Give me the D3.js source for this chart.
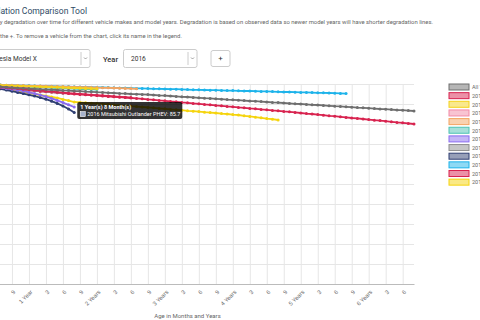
<!DOCTYPE html>
<html>
<head>
<meta charset="utf-8">
<script src="https://cdn.jsdelivr.net/npm/d3@7"></script>
<style>
  body { margin: 0; overflow: hidden; background: #fff; font-family: Roboto, "Open Sans", sans-serif; }
  svg { display: block; }
</style>
</head>
<body>
<div id="chart"></div>
<script>
// monthly battery capacity (%) by series, month 0 .. n
var allVehicles = [100.0,99.8,99.6,99.4,99.2,99.0,98.8,98.6,98.4,98.2,98.0,
  97.9,97.7,97.6,97.4,97.3,97.1,97.0,96.8,96.7,96.5,
  96.4,96.2,96.1,95.9,95.8,95.6,95.5,95.3,95.2,95.0,
  94.9,94.8,94.7,94.5,94.3,94.2,94.0,93.8,93.6,93.5,
  93.3,93.1,92.9,92.8,92.6,92.4,92.2,92.1,91.9,91.7,
  91.5,91.4,91.2,91.0,90.8,90.7,90.5,90.3,90.1,90.0,
  89.8,89.6,89.5,89.3,89.1,88.9,88.8,88.6,88.4,88.2,
  88.1,87.9,87.7,87.5,87.4,87.2,87.0,86.9,86.7,86.5];
var modelS2017 = [100,99.8,99.6,99.4,99.2,98.9,98.7,98.4,98.2,97.9,97.7,97.4,97.2,96.9,96.7,96.4,
  96.2,95.9,95.7,95.4,95.2,95.0,94.8,94.6,94.4,94.2,94.0,93.8,93.6,93.4,93.2];
var modelS2018 = [100,99.9,99.8,99.7,99.6,99.5,99.4,99.3,99.2,99.1,99.0,98.9,98.8,98.7,98.6,98.5,
  98.4,98.3,98.2,98.1,98.0,97.9,97.8,97.7,97.6];
var modelX2019 = [100,99.9,99.7,99.6,99.4,99.3,99.1,99.0,98.8,98.7,98.5,98.4,98.2];
var modelX2017 = [100,99.9,99.9,99.8,99.8,99.7,99.6,99.5,99.4,99.4,99.3,99.2,99.1,99.0,99.0,98.9,
  98.8,98.7,98.7,98.6,98.5,98.4,98.4,98.3,98.2,98.1,98.1,98.0,97.9,97.8,97.7,97.6];
var modelX2018 = [100,99.9,99.8,99.7,99.6,99.5,99.3,99.2,99.1,99.0,98.9,98.7,98.6,98.5,98.4,98.3,
  98.1,98.0,97.9,97.8,97.7,97.5,97.4,97.3,97.2];
var leaf2018 = [100,99.8,99.6,99.4,99.1,98.8,98.5,98.2,97.8,97.4,96.9,96.4,95.8,95.2,94.5,93.7,
  92.8,91.8,90.7,89.6,88.5];
var bolt2019 = [100,99.8,99.5,99.3,99.0,98.8,98.5,98.3,98.0,97.8,97.5,97.3,97.0,96.8,96.5,96.3,
  96.0,95.8,95.5];
var outlander2016 = [100,99.8,99.6,99.3,99.0,98.7,98.2,97.6,97.0,96.4,95.8,95.2,94.6,94.0,93.2,92.4,
  91.4,90.3,89.0,87.5,85.7];
var modelX2016 = [100.0,99.9,99.9,99.8,99.7,99.7,99.6,99.5,
  99.4,99.4,99.3,99.2,99.2,99.1,99.0,98.9,98.9,98.8,98.7,98.7,98.6,98.5,98.5,98.4,98.3,98.3,98.2,98.1,98.0,98.0,97.9,97.8,97.8,97.7,
  97.6,97.6,97.5,97.4,97.4,97.3,97.2,97.1,97.1,97.0,96.9,96.9,96.8,96.7,96.7,96.6,96.5,96.5,96.4,96.3,
  96.3,96.2,96.1,96.0,96.0,95.9,95.8,95.8,95.7,95.6,95.6,95.5,95.4,95.3,95.2];
var modelS2015 = [100.0,99.7,99.4,99.1,98.8,98.5,98.3,98.0,97.8,97.5,97.3,
  97.0,96.8,96.6,96.3,96.1,95.9,95.6,95.4,95.2,95.0,
  94.8,94.6,94.4,94.2,94.0,93.8,93.6,93.4,93.2,93.0,92.8,92.6,92.3,
  92.1,91.8,91.6,91.3,91.1,90.8,90.6,90.3,90.1,89.8,89.6,89.3,89.1,88.8,88.6,88.3,88.1,87.8,87.6,87.3,87.1,86.8,86.6,86.3,86.1,85.8,85.5,
  85.2,85.0,84.7,84.4,84.1,83.9,83.6,83.3,83.0,82.8,82.5,82.2,81.9,81.7,81.4,81.1,80.8,80.6,80.3,80.0];
var volt2017 = [100.0,99.8,99.5,99.3,99.0,98.7,98.4,98.0,
  97.5,97.0,96.5,96.0,95.5,95.0,94.5,94.0,93.5,93.0,92.3,91.7,91.0,
  90.8,90.6,90.4,90.2,90.0,89.8,89.5,89.3,89.1,88.9,88.7,88.5,88.3,
  88.1,87.8,87.6,87.3,87.1,86.9,86.6,86.4,86.2,85.9,85.7,85.5,85.2,85.0,84.7,84.5,
  84.1,83.8,83.4,83.1,82.7,82.4,82.0];

var seriesLabels = ["All Vehicles", "2017 Tesla Model S", "2018 Tesla Model S", "2019 Tesla Model X",
  "2017 Tesla Model X", "2018 Tesla Model X", "2018 Nissan Leaf", "2019 Chevrolet Bolt",
  "2016 Mitsubishi Outlander PHEV", "2016 Tesla Model X", "2015 Tesla Model S", "2017 Chevrolet Volt"];
var seriesValues = [allVehicles, modelS2017, modelS2018, modelX2019, modelX2017, modelX2018,
  leaf2018, bolt2019, outlander2016, modelX2016, modelS2015, volt2017];
var seriesColors = ["#6e6e6e", "#d8234f", "#f4d21c", "#f28aa6", "#f3a462", "#4dc2b4",
  "#8a6cf0", "#8e8e8e", "#2f3f72", "#1db3ea", "#d8234f", "#f5d40e"];

var width = 480, height = 320;
var svg = d3.select("#chart").append("svg").attr("width", width).attr("height", height);

// header
svg.append("text").attr("x", 87).attr("y", 14).attr("text-anchor", "end")
  .style("font-size", "8.6px").style("fill", "#2f4a66")
  .text("Battery Degradation Comparison Tool");
svg.append("text").attr("x", 433).attr("y", 24).attr("text-anchor", "end")
  .style("font-size", "5.9px").style("fill", "#666")
  .text("Compare battery degradation over time for different vehicle makes and model years. Degradation is based on observed data so newer model years will have shorter degradation lines.");
svg.append("text").attr("x", 182).attr("y", 38).attr("text-anchor", "end")
  .style("font-size", "5.9px").style("fill", "#666")
  .text("To add a vehicle, select a make, model and year and click the +. To remove a vehicle from the chart, click its name in the legend.");

// controls
function dropdown(x0, x1, label, textX, anchor) {
  svg.append("rect").attr("x", x0).attr("y", 49.5).attr("width", x1 - x0).attr("height", 18)
    .attr("rx", 2).style("fill", "#fff").style("stroke", "#ccc");
  svg.append("line").attr("x1", x1 - 9).attr("x2", x1 - 9).attr("y1", 52).attr("y2", 65).style("stroke", "#ccc");
  svg.append("path").attr("d", "M" + (x1 - 6) + ",57.5l1.5,1.5l1.5,-1.5").style("fill", "none").style("stroke", "#888").style("stroke-width", 0.8);
  svg.append("text").attr("x", textX).attr("y", 61).attr("text-anchor", anchor)
    .style("font-size", "6.6px").style("fill", "#333").text(label);
}
dropdown(-60, 90, "Tesla Model X", 37, "end");
svg.append("text").attr("x", 103).attr("y", 61.5).style("font-size", "7.5px").style("font-weight", 500)
  .style("fill", "#333").text("Year");
dropdown(123.5, 197, "2016", 131, "start");
svg.append("rect").attr("x", 211).attr("y", 50.5).attr("width", 19).attr("height", 16)
  .attr("rx", 2).style("fill", "#fff").style("stroke", "#ccc");
svg.append("text").attr("x", 220.5).attr("y", 61).attr("text-anchor", "middle")
  .style("font-size", "8px").style("fill", "#333").text("+");

// plot
var x = d3.scaleLinear().domain([0, 80]).range([-39, 414]);
var y = d3.scaleLinear().domain([0, 100]).range([284, 84]);
var monthTicks = d3.range(0, 80, 3);

svg.append("g").attr("transform", "translate(0,284)")
  .call(d3.axisBottom(x).tickValues(monthTicks).tickSize(-200).tickFormat(""))
  .call(function(g) {
    g.select(".domain").remove();
    g.selectAll("line").style("stroke", "#e6e6e6");
  });
svg.append("g").attr("transform", "translate(-39,0)")
  .call(d3.axisLeft(y).ticks(10).tickSize(-453).tickFormat(""))
  .call(function(g) {
    g.select(".domain").remove();
    g.selectAll("line").style("stroke", "#e6e6e6");
  });

var xAxis = svg.append("g").attr("transform", "translate(0,284)")
  .call(d3.axisBottom(x).tickValues(monthTicks).tickSize(0).tickFormat(function(m) {
    if (m === 0) return "0";
    if (m % 12 === 0) return m / 12 === 1 ? "1 Year" : (m / 12) + " Years";
    return String(m % 12);
  }));
xAxis.select(".domain").style("stroke", "#bbb");
xAxis.selectAll("text")
  .attr("x", 0).attr("y", 0).attr("dy", "0.35em")
  .attr("text-anchor", "end")
  .attr("transform", "translate(2,7) rotate(-45)")
  .style("font-size", "5.8px").style("fill", "#666");

svg.append("text").attr("x", 187.5).attr("y", 318).attr("text-anchor", "middle")
  .style("font-size", "6px").style("fill", "#666").text("Age in Months and Years");

var line = d3.line().x(function(d, i) { return x(i); }).y(function(d) { return y(d); });

var order = d3.range(seriesValues.length).reverse();
order.forEach(function(k) {
  var g = svg.append("g");
  g.append("path").datum(seriesValues[k]).attr("d", line)
    .style("fill", "none").style("stroke", seriesColors[k]).style("stroke-width", 1.8);
  g.selectAll("circle").data(seriesValues[k]).enter().append("circle")
    .attr("cx", function(d, i) { return x(i); }).attr("cy", function(d) { return y(d); })
    .attr("r", 1.5).style("fill", seriesColors[k]);
});

// legend
var legend = svg.append("g").selectAll("g").data(seriesLabels).enter().append("g")
  .attr("transform", function(d, i) { return "translate(449," + (84 + i * 8.65) + ")"; });
legend.append("rect").attr("width", 20).attr("height", 6)
  .style("fill", function(d, i) { return seriesColors[i]; }).style("fill-opacity", 0.5)
  .style("stroke", function(d, i) { return seriesColors[i]; }).style("stroke-width", 1);
legend.append("text").attr("x", 23).attr("y", 5.3)
  .style("font-size", "5.5px").style("fill", "#666").text(function(d) { return d; });

// tooltip on the Outlander point at 20 months
var tipMonth = 20, tipValue = outlander2016[tipMonth];
var tx = x(tipMonth) + 3, ty = y(tipValue) - 10.5;
var tip = svg.append("g").attr("transform", "translate(" + tx + "," + ty + ")");
tip.append("rect").attr("width", 105).attr("height", 17).attr("rx", 2).style("fill", "rgba(0,0,0,0.8)");
tip.append("text").attr("x", 3).attr("y", 6.5).style("font-size", "5.5px").style("font-weight", "bold")
  .style("fill", "#fff").text("1 Year(s) 8 Month(s)");
tip.append("rect").attr("x", 3).attr("y", 9.5).attr("width", 5).attr("height", 5)
  .style("fill", "#a6b2cc").style("stroke", "#fff").style("stroke-width", 0.6);
tip.append("text").attr("x", 10).attr("y", 14.3).style("font-size", "5.5px").style("fill", "#fff")
  .text(seriesLabels[8] + ": " + tipValue);
</script>
</body>
</html>
